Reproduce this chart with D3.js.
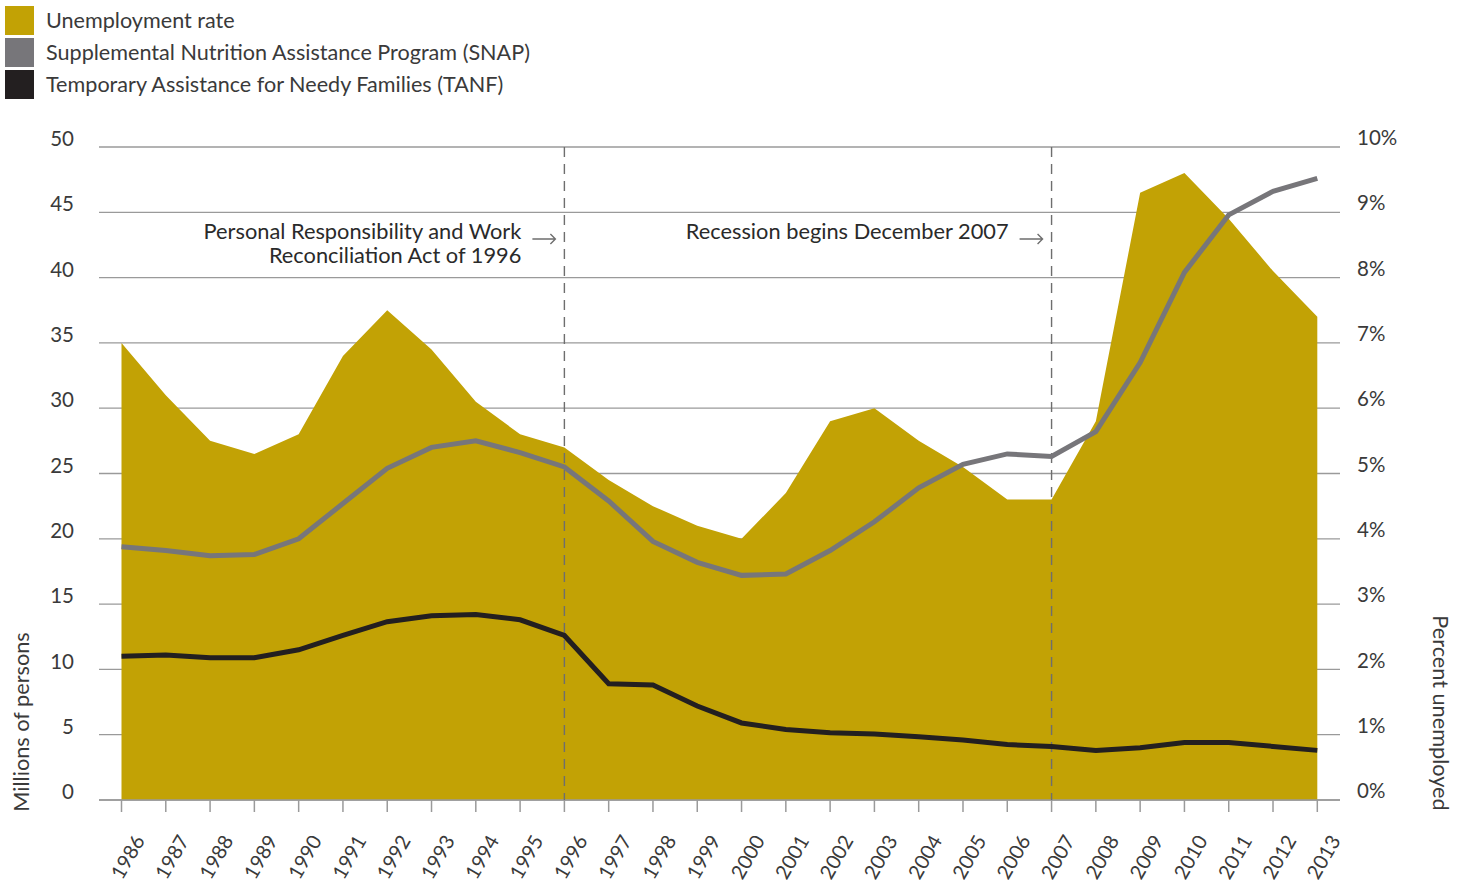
<!DOCTYPE html>
<html>
<head>
<meta charset="utf-8">
<script src="https://cdn.jsdelivr.net/npm/d3@7"></script>
<style>
  html, body { margin: 0; padding: 0; background: #fff; }
  svg { display: block; font-family: Lato, "Noto Sans", sans-serif; }
</style>
</head>
<body>
<svg id="chart" width="1463" height="883"></svg>
<script>
// Annual series, 1986–2013
const years = d3.range(1986, 2014);
// Unemployment rate, percent
const unemployment = [7.0, 6.2, 5.5, 5.3, 5.6, 6.8, 7.5, 6.9, 6.1, 5.6, 5.4, 4.9, 4.5, 4.2, 4.0, 4.7, 5.8, 6.0, 5.5, 5.1, 4.6, 4.6, 5.8, 9.3, 9.6, 8.9, 8.1, 7.4];
// SNAP participants, millions of persons
const snap = [19.4, 19.1, 18.7, 18.8, 20.0, 22.7, 25.4, 27.0, 27.5, 26.6, 25.5, 22.9, 19.8, 18.2, 17.2, 17.3, 19.1, 21.3, 23.9, 25.7, 26.5, 26.3, 28.2, 33.5, 40.4, 44.8, 46.6, 47.6];
// TANF recipients, millions of persons
const tanf = [11.0, 11.1, 10.9, 10.9, 11.5, 12.6, 13.65, 14.1, 14.2, 13.8, 12.6, 8.9, 8.8, 7.2, 5.9, 5.4, 5.15, 5.05, 4.85, 4.6, 4.25, 4.1, 3.8, 4.0, 4.4, 4.4, 4.1, 3.8];

const leftTicks = [0, 5, 10, 15, 20, 25, 30, 35, 40, 45, 50];
const rightTicks = [0, 1, 2, 3, 4, 5, 6, 7, 8, 9, 10];

const legendItems = [
  { label: "Unemployment rate", color: "#c2a205" },
  { label: "Supplemental Nutrition Assistance Program (SNAP)", color: "#77767a" },
  { label: "Temporary Assistance for Needy Families (TANF)", color: "#231f20" }
];

const events = [
  { year: 1996, lines: ["Personal Responsibility and Work", "Reconciliation Act of 1996"] },
  { year: 2007, lines: ["Recession begins December 2007"] }
];

const textColor = "#3a3a3a";
const gridColor = "#9a9a9a";

const svg = d3.select("#chart");

const x = d3.scaleLinear().domain([1986, 2013]).range([121.5, 1317.3]);
const yL = d3.scaleLinear().domain([0, 50]).range([800, 147]);
const yR = d3.scaleLinear().domain([0, 10]).range([800, 147]);

const gridLeft = 99, gridRight = 1340;

// Horizontal gridlines
svg.append("g").selectAll("line")
  .data(leftTicks)
  .join("line")
  .attr("x1", gridLeft).attr("x2", gridRight)
  .attr("y1", d => yL(d)).attr("y2", d => yL(d))
  .attr("stroke", gridColor).attr("stroke-width", 1.3);

// Unemployment rate area (right axis)
const area = d3.area()
  .x((d, i) => x(years[i]))
  .y0(yR(0))
  .y1(d => yR(d));
svg.append("path")
  .datum(unemployment)
  .attr("d", area)
  .attr("fill", "#c2a205");

// Baseline axis with year ticks
const xAxis = svg.append("g");
xAxis.append("line")
  .attr("x1", gridLeft).attr("x2", gridRight)
  .attr("y1", 800).attr("y2", 800)
  .attr("stroke", gridColor).attr("stroke-width", 1.5);
xAxis.selectAll("line.tick")
  .data(years)
  .join("line")
  .attr("class", "tick")
  .attr("x1", d => x(d)).attr("x2", d => x(d))
  .attr("y1", 800).attr("y2", 812)
  .attr("stroke", gridColor).attr("stroke-width", 1.5);
xAxis.selectAll("text")
  .data(years)
  .join("text")
  .attr("transform", d => `translate(${x(d) + 8},${858}) rotate(-60)`)
  .attr("text-anchor", "middle")
  .attr("dominant-baseline", "middle")
  .attr("font-size", 20)
  .attr("fill", textColor)
  .text(d => d);

// Left axis labels
svg.append("g").selectAll("text")
  .data(leftTicks)
  .join("text")
  .attr("x", 74).attr("y", d => yL(d) - 6)
  .attr("text-anchor", "end")
  .attr("dominant-baseline", "middle")
  .attr("font-size", 20.5)
  .attr("fill", textColor)
  .text(d => d);

// Right axis labels
svg.append("g").selectAll("text")
  .data(rightTicks)
  .join("text")
  .attr("x", 1357).attr("y", d => yR(d) - 7)
  .attr("text-anchor", "start")
  .attr("dominant-baseline", "middle")
  .attr("font-size", 20.5)
  .attr("fill", textColor)
  .text(d => d + "%");

// Axis titles
svg.append("text")
  .attr("transform", "translate(23,722) rotate(-90)")
  .attr("text-anchor", "middle")
  .attr("dominant-baseline", "middle")
  .attr("font-size", 21.7)
  .attr("fill", textColor)
  .text("Millions of persons");
svg.append("text")
  .attr("transform", "translate(1438,713) rotate(90)")
  .attr("text-anchor", "middle")
  .attr("dominant-baseline", "middle")
  .attr("font-size", 21.7)
  .attr("fill", textColor)
  .text("Percent unemployed");

// Event markers: dashed verticals, labels and arrows
const ev = svg.append("g").selectAll("g")
  .data(events)
  .join("g");
ev.append("line")
  .attr("x1", d => x(d.year)).attr("x2", d => x(d.year))
  .attr("y1", 147).attr("y2", 800)
  .attr("stroke", "#6e6e6e").attr("stroke-width", 1.4)
  .attr("stroke-dasharray", "10,7");
ev.each(function (d) {
  const g = d3.select(this);
  const xe = x(d.year);
  d.lines.forEach((t, i) => {
    g.append("text")
      .attr("x", xe - 43).attr("y", 239 + i * 24)
      .attr("text-anchor", "end")
      .attr("font-size", 21.8)
      .attr("fill", "#2a2a2a")
      .text(t);
  });
  g.append("path")
    .attr("d", `M${xe - 32},239H${xe - 9}M${xe - 14},234L${xe - 9},239L${xe - 14},244`)
    .attr("fill", "none")
    .attr("stroke", "#6e6e6e")
    .attr("stroke-width", 1.4);
});

// SNAP and TANF lines (left axis)
const lineGen = d3.line().x((d, i) => x(years[i])).y(d => yL(d));
svg.append("path")
  .datum(snap)
  .attr("d", lineGen)
  .attr("fill", "none")
  .attr("stroke", "#77767a")
  .attr("stroke-width", 5);
svg.append("path")
  .datum(tanf)
  .attr("d", lineGen)
  .attr("fill", "none")
  .attr("stroke", "#231f20")
  .attr("stroke-width", 5);

// Legend
const leg = svg.append("g").selectAll("g")
  .data(legendItems)
  .join("g")
  .attr("transform", (d, i) => `translate(5,${6 + i * 32})`);
leg.append("rect")
  .attr("width", 29).attr("height", 29)
  .attr("fill", d => d.color);
leg.append("text")
  .attr("x", 41).attr("y", 17)
  .attr("dominant-baseline", "middle")
  .attr("font-size", 21.6)
  .attr("fill", textColor)
  .text(d => d.label);
</script>
</body>
</html>
